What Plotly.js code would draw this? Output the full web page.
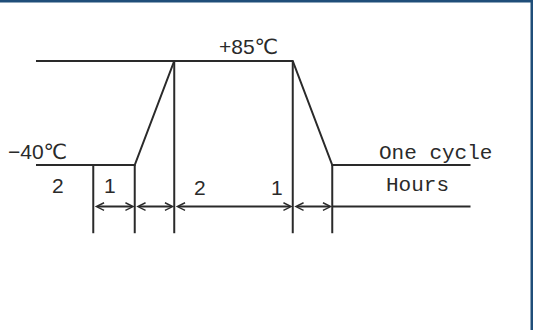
<!DOCTYPE html>
<html>
<head>
<meta charset="utf-8">
<script src="https://cdn.plot.ly/plotly-3.0.1.min.js"></script>
<style>html,body{margin:0;padding:0;background:#fff;}#chart{width:533px;height:330px;}</style>
</head>
<body>
<div id="chart"></div>
<script>
// Schematic temperature cycle (time in schematic units, temperature in °C)
const profileTime = [0, 2.5, 3.5, 6.5, 7.5, 11];
const profileTemp = [-40, -40, 85, 85, -40, -40];
const highLevelTime = [0, 3.5];
const highTemp = 85;
const lowTemp = -40;
const markerTimes = [1.45, 2.5, 3.5, 6.5, 7.5];
const markerTopTemps = [-40, -40, 85, 85, -40];
const markerBottomTemp = -122;
const spanStarts = [1.45, 2.5, 3.5, 6.5];
const spanEnds = [2.5, 3.5, 6.5, 7.5];
const spanLevel = -90;
const hoursLineTime = [7.5, 11];
const durationLabels = ['2', '1', '2', '1'];
const durationLabelTimes = [0.56, 1.87, 4.15, 6.09];
const durationLabelTemps = [-64.6, -64.6, -67, -67];
const levelLabels = ['+85℃', '−40℃'];
const levelLabelTimes = [5.39, 0.04];
const levelLabelTemps = [102.5, -23.2];
const legendLabels = ['One cycle', 'Hours'];
const legendLabelTimes = [10.11, 9.67];
const legendLabelTemps = [-25.6, -64.6];

const ink = '#2a2a2a';
const lineStyle = {color: ink, width: 2};

const traces = [];
traces.push({x: profileTime, y: profileTemp, mode: 'lines', line: lineStyle, hoverinfo: 'skip'});
traces.push({x: highLevelTime, y: highLevelTime.map(() => highTemp), mode: 'lines', line: lineStyle, hoverinfo: 'skip'});
markerTimes.forEach((t, i) => {
  traces.push({x: [t, t], y: [markerTopTemps[i], markerBottomTemp], mode: 'lines', line: lineStyle, hoverinfo: 'skip'});
});
traces.push({x: hoursLineTime, y: hoursLineTime.map(() => spanLevel), mode: 'lines', line: lineStyle, hoverinfo: 'skip'});

const annotations = [];
spanStarts.forEach((s, i) => {
  annotations.push({
    x: spanEnds[i], y: spanLevel, ax: s, ay: spanLevel,
    xref: 'x', yref: 'y', axref: 'x', ayref: 'y',
    text: '', showarrow: true, arrowside: 'end+start',
    arrowhead: 5, arrowsize: 0.75, arrowwidth: 2, arrowcolor: ink,
    standoff: 0, startstandoff: 0
  });
});
durationLabels.forEach((txt, i) => {
  annotations.push({x: durationLabelTimes[i], y: durationLabelTemps[i], xref: 'x', yref: 'y',
    text: txt, showarrow: false, font: {family: 'Liberation Sans', size: 21, color: ink}});
});
levelLabels.forEach((txt, i) => {
  annotations.push({x: levelLabelTimes[i], y: levelLabelTemps[i], xref: 'x', yref: 'y',
    text: txt, showarrow: false, font: {family: 'Liberation Sans, DejaVu Sans', size: 21, color: ink}});
});
legendLabels.forEach((txt, i) => {
  annotations.push({x: legendLabelTimes[i], y: legendLabelTemps[i], xref: 'x', yref: 'y',
    text: txt, showarrow: false, font: {family: 'Liberation Mono', size: 21, color: ink}});
});

const borderColor = '#1f4e79';
const layout = {
  width: 533, height: 330,
  margin: {l: 0, r: 0, t: 0, b: 0, pad: 0},
  paper_bgcolor: '#ffffff', plot_bgcolor: '#ffffff',
  showlegend: false,
  xaxis: {range: [-0.911, 12.582], visible: false, fixedrange: true},
  yaxis: {range: [-238.3, 158.3], visible: false, fixedrange: true},
  annotations: annotations,
  shapes: [
    {type: 'rect', xref: 'paper', yref: 'paper', x0: 0, x1: 1, y0: 1 - 2.5/330, y1: 1, fillcolor: borderColor, line: {width: 0}},
    {type: 'rect', xref: 'paper', yref: 'paper', x0: 1 - 2.5/533, x1: 1, y0: 0, y1: 1, fillcolor: borderColor, line: {width: 0}}
  ]
};

Plotly.newPlot('chart', traces, layout, {displayModeBar: false, staticPlot: true});
</script>
</body>
</html>
